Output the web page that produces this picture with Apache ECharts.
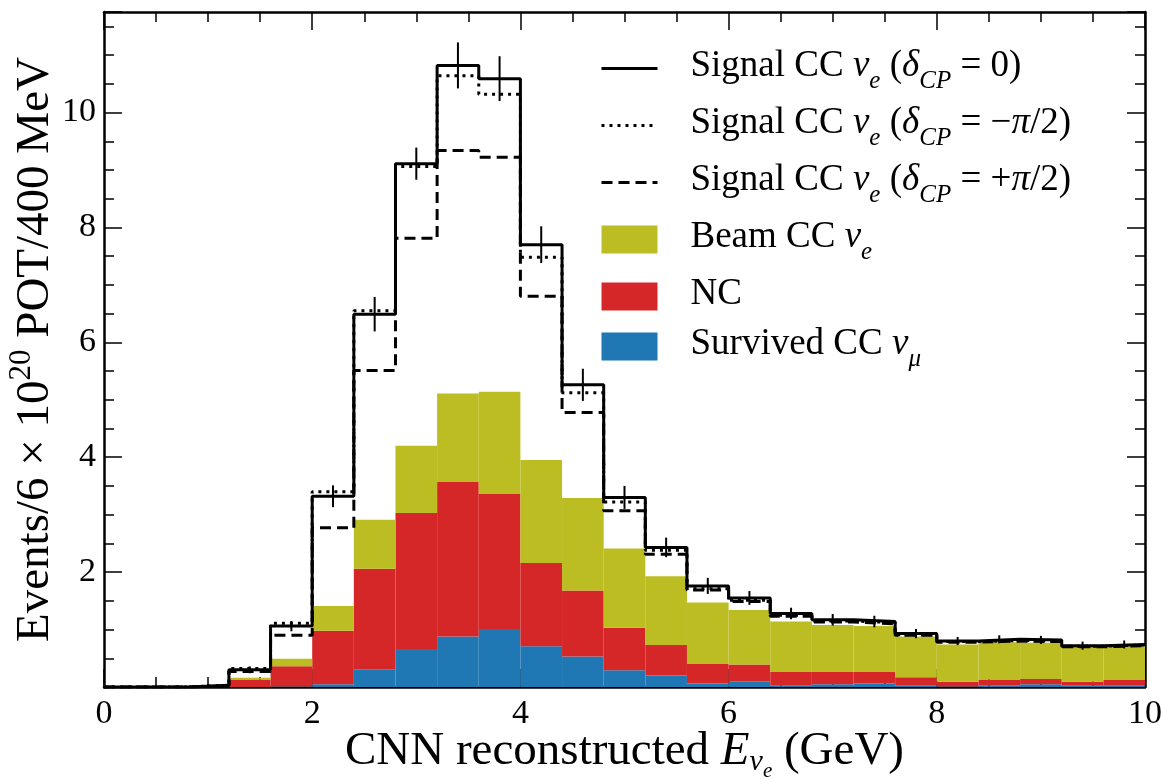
<!DOCTYPE html>
<html>
<head>
<meta charset="utf-8">
<script src="https://cdn.jsdelivr.net/npm/echarts@6/dist/echarts.min.js"></script>
<style>
  html, body { margin: 0; padding: 0; background: #fff; }
  #chart { width: 1163px; height: 780px; }
</style>
</head>
<body>
<div id="chart"></div>
<script>
// 25 bins of 400 MeV from 0 to 10 GeV
const binEdges = [0, 0.4, 0.8, 1.2, 1.6, 2.0, 2.4, 2.8, 3.2, 3.6, 4.0, 4.4, 4.8, 5.2,
  5.6, 6.0, 6.4, 6.8, 7.2, 7.6, 8.0, 8.4, 8.8, 9.2, 9.6, 10.0];

// stacked backgrounds (bottom to top)
const survivedNumu = [0, 0, 0, 0, 0.01, 0.05, 0.31, 0.66, 0.88, 1.01, 0.71, 0.53, 0.29,
  0.20, 0.06, 0.10, 0.02, 0.05, 0.06, 0.02, 0.01, 0.03, 0.05, 0.02, 0.02];
const ncEvents = [0, 0, 0.01, 0.13, 0.35, 0.93, 1.75, 2.37, 2.69, 2.36, 1.45, 1.15, 0.74,
  0.53, 0.35, 0.29, 0.24, 0.22, 0.20, 0.15, 0.08, 0.10, 0.09, 0.07, 0.10];
const beamNue = [0, 0, 0.01, 0.03, 0.13, 0.43, 0.85, 1.17, 1.54, 1.77, 1.79, 1.61, 1.38,
  1.20, 1.06, 0.95, 0.88, 0.81, 0.80, 0.71, 0.65, 0.65, 0.63, 0.61, 0.59];

// signal + background totals
const signalCP0 = [0, 0, 0.03, 0.30, 1.06, 3.32, 6.49, 9.11, 10.82, 10.59, 7.70, 5.26, 3.30,
  2.43, 1.76, 1.55, 1.28, 1.17, 1.14, 0.93, 0.80, 0.83, 0.82, 0.72, 0.74];
const signalCPminus = [0, 0, 0.03, 0.32, 1.11, 3.40, 6.55, 9.06, 10.64, 10.32, 7.48, 5.12, 3.22,
  2.38, 1.71, 1.51, 1.25, 1.15, 1.12, 0.91, 0.79, 0.81, 0.80, 0.71, 0.73];
const signalCPplus = [0, 0, 0.02, 0.27, 0.90, 2.77, 5.51, 7.81, 9.34, 9.22, 6.80, 4.78, 3.07,
  2.31, 1.69, 1.49, 1.23, 1.13, 1.10, 0.90, 0.78, 0.80, 0.79, 0.70, 0.72];
const signalErr = [0, 0, 0.02, 0.06, 0.09, 0.19, 0.30, 0.28, 0.40, 0.39, 0.32, 0.28, 0.20,
  0.17, 0.14, 0.12, 0.10, 0.10, 0.10, 0.08, 0.07, 0.07, 0.07, 0.07, 0.07];

const xTickLabels = [0, 2, 4, 6, 8, 10];
const yTickLabels = [2, 4, 6, 8, 10];

const FONT = '"Liberation Serif", "DejaVu Serif", serif';
const FS = 37;

const richText = {
  t: { fontFamily: FONT, fontSize: FS, lineHeight: 41, verticalAlign: 'top', color: '#000' },
  it: { fontFamily: FONT, fontSize: FS, lineHeight: 41, verticalAlign: 'top', fontStyle: 'italic', color: '#000' },
  sub: { fontFamily: FONT, fontSize: 25, lineHeight: 25, padding: [21, 0, 0, 0], verticalAlign: 'top', fontStyle: 'italic', color: '#000' },
  gap: { width: 28 }
};

const legendLabels = {
  sig0: '{gap|}{t|Signal CC }{it|ν}{sub|e}{t| (}{it|δ}{sub|CP}{t| = 0)}',
  sigm: '{gap|}{t|Signal CC }{it|ν}{sub|e}{t| (}{it|δ}{sub|CP}{t| = −}{it|π}{t|/2)}',
  sigp: '{gap|}{t|Signal CC }{it|ν}{sub|e}{t| (}{it|δ}{sub|CP}{t| = +}{it|π}{t|/2)}',
  beam: '{gap|}{t|Beam CC }{it|ν}{sub|e}',
  nc: '{gap|}{t|NC}',
  numu: '{gap|}{t|Survived CC }{it|ν}{sub|μ}'
};

const stepData = (vals) => binEdges.map((x, i) => [x, vals[Math.min(i, vals.length - 1)]]);
const errData = signalCP0.map((v, i) => [(binEdges[i] + binEdges[i + 1]) / 2, v, signalErr[i]])
  .filter((d) => d[2] > 0);

const frameLine = { show: true, onZero: false, lineStyle: { color: '#000', width: 2.5 } };
const majorTick = { show: true, inside: true, length: 18, lineStyle: { color: '#000', width: 1.5 } };
const minorTick = { show: true, splitNumber: 4, length: 10, lineStyle: { color: '#000', width: 1.5 } };
const hiddenSymbol = { opacity: 0, color: 'rgba(0,0,0,0)' };

const chart = echarts.init(document.getElementById('chart'));
chart.setOption({
  animation: false,
  backgroundColor: '#fff',
  grid: { left: 104, right: 18, top: 12, bottom: 93, containLabel: false, outerBoundsMode: 'none' },
  legend: {
    orient: 'vertical',
    left: 600,
    top: 48,
    padding: 0,
    itemWidth: 56,
    itemHeight: 28,
    itemGap: 11,
    selectedMode: false,
    data: [
      { name: 'sig0', itemStyle: hiddenSymbol, lineStyle: { width: 3 } },
      { name: 'sigm', itemStyle: hiddenSymbol, lineStyle: { width: 3 } },
      { name: 'sigp', itemStyle: hiddenSymbol, lineStyle: { width: 3 } },
      { name: 'beam', icon: 'rect' },
      { name: 'nc', icon: 'rect' },
      { name: 'numu', icon: 'rect' }
    ],
    formatter: (name) => legendLabels[name],
    textStyle: { fontFamily: FONT, fontSize: FS, color: '#000', rich: richText }
  },
  xAxis: [
    {
      type: 'value', min: 0, max: 10, interval: 2, position: 'bottom',
      axisLine: frameLine, axisTick: majorTick, minorTick: minorTick,
      splitLine: { show: false },
      axisLabel: {
        fontFamily: FONT, fontSize: 34, color: '#000', margin: 10,
        formatter: (v) => (xTickLabels.includes(v) ? String(v) : '')
      },
      name: '{t|CNN reconstructed }{it|E}{sub|ν}{ssub|e}{t| (GeV)}',
      nameLocation: 'middle',
      nameGap: 41,
      nameMoveOverlap: false,
      nameTextStyle: {
        rich: {
          t: { fontFamily: FONT, fontSize: 47, lineHeight: 46, verticalAlign: 'top', color: '#000' },
          it: { fontFamily: FONT, fontSize: 47, lineHeight: 46, verticalAlign: 'top', fontStyle: 'italic', color: '#000' },
          sub: { fontFamily: FONT, fontSize: 30, lineHeight: 30, padding: [19, 0, 0, 0], verticalAlign: 'top', fontStyle: 'italic', color: '#000' },
          ssub: { fontFamily: FONT, fontSize: 21, lineHeight: 21, padding: [33, 0, 0, 0], verticalAlign: 'top', fontStyle: 'italic', color: '#000' }
        }
      }
    },
    {
      type: 'value', min: 0, max: 10, interval: 2, position: 'top',
      axisLine: frameLine, axisTick: majorTick, minorTick: minorTick,
      splitLine: { show: false }, axisLabel: { show: false }
    },
    {
      type: 'category', data: binEdges.slice(0, 25), show: false, boundaryGap: true
    }
  ],
  yAxis: [
    {
      type: 'value', min: 0, max: 11.75, interval: 2, position: 'left',
      axisLine: frameLine, axisTick: majorTick, minorTick: minorTick,
      splitLine: { show: false },
      axisLabel: {
        fontFamily: FONT, fontSize: 34, color: '#000', margin: 8,
        formatter: (v) => (yTickLabels.includes(v) ? String(v) : '')
      },
      name: '{t|Events/6 × 10}{sup|20}{t| POT/400 MeV}',
      nameLocation: 'middle',
      nameGap: 45,
      nameMoveOverlap: false,
      nameTextStyle: {
        rich: {
          t: { fontFamily: FONT, fontSize: 47, lineHeight: 46, verticalAlign: 'bottom', color: '#000' },
          sup: { fontFamily: FONT, fontSize: 31, lineHeight: 31, padding: [0, 0, 22, 0], verticalAlign: 'bottom', color: '#000' }
        }
      }
    },
    {
      type: 'value', min: 0, max: 11.75, interval: 2, position: 'right',
      axisLine: frameLine, axisTick: majorTick, minorTick: minorTick,
      splitLine: { show: false }, axisLabel: { show: false }
    }
  ],
  series: [
    {
      name: 'numu', type: 'bar', xAxisIndex: 2, yAxisIndex: 0, stack: 'bkg',
      barCategoryGap: '0%', data: survivedNumu,
      itemStyle: { color: '#1f77b4' }
    },
    {
      name: 'nc', type: 'bar', xAxisIndex: 2, yAxisIndex: 0, stack: 'bkg',
      barCategoryGap: '0%', data: ncEvents,
      itemStyle: { color: '#d62728' }
    },
    {
      name: 'beam', type: 'bar', xAxisIndex: 2, yAxisIndex: 0, stack: 'bkg',
      barCategoryGap: '0%', data: beamNue,
      itemStyle: { color: '#bcbd22' }
    },
    {
      name: 'sigp', type: 'line', step: 'end', symbol: 'none', z: 3,
      xAxisIndex: 0, yAxisIndex: 0, data: stepData(signalCPplus),
      lineStyle: { color: '#000', width: 3, type: [11, 6] }, itemStyle: { color: '#000' }
    },
    {
      name: 'sigm', type: 'line', step: 'end', symbol: 'none', z: 3,
      xAxisIndex: 0, yAxisIndex: 0, data: stepData(signalCPminus),
      lineStyle: { color: '#000', width: 3, type: [3, 5] }, itemStyle: { color: '#000' }
    },
    {
      name: 'sig0', type: 'line', step: 'end', symbol: 'none', z: 4,
      xAxisIndex: 0, yAxisIndex: 0, data: stepData(signalCP0),
      lineStyle: { color: '#000', width: 3 }, itemStyle: { color: '#000' }
    },
    {
      name: 'err', type: 'custom', z: 5, xAxisIndex: 0, yAxisIndex: 0,
      data: errData,
      renderItem: (params, api) => {
        const x = api.value(0), y = api.value(1), e = api.value(2);
        const p1 = api.coord([x, y - e]);
        const p2 = api.coord([x, y + e]);
        return {
          type: 'line',
          shape: { x1: p1[0], y1: p1[1], x2: p2[0], y2: p2[1] },
          style: { stroke: '#000', lineWidth: 2 }
        };
      }
    }
  ]
});
</script>
</body>
</html>
